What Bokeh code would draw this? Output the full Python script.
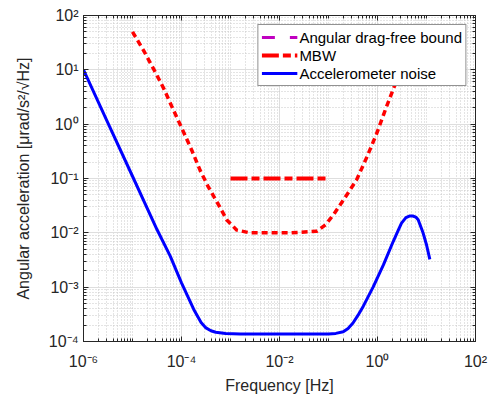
from bokeh.plotting import figure
from bokeh.models import (LogAxis, FixedTicker, CustomJSTickFormatter, Legend,
                          LegendItem, Range1d)
from bokeh.embed import file_html
from bokeh.resources import INLINE

nan = float("nan")

# ---------------- data ----------------
acc_f = [1e-6, 3.16e-6, 1e-5, 3.16e-5, 5.89e-5, 1e-4, 1.78e-4, 2.51e-4, 3.16e-4,
         3.98e-4, 5.01e-4, 7.94e-4, 1.58e-3, 1e-2, 0.1, 0.141, 0.2, 0.251, 0.316,
         0.398, 0.513, 0.813, 1.32, 2.09, 2.63, 3.09, 3.80, 4.47, 5.25, 6.03,
         6.76, 8.51, 10.0, 11.7]
acc_v = [10.0, 1.05, 0.110, 0.0115, 3.72e-3, 1.20e-3, 3.89e-4, 2.24e-4, 1.78e-4,
         1.58e-4, 1.48e-4, 1.41e-4, 1.38e-4, 1.38e-4, 1.38e-4, 1.41e-4, 1.51e-4,
         1.74e-4, 2.19e-4, 3.02e-4, 4.47e-4, 1.0e-3, 2.57e-3, 6.92e-3, 0.0110,
         0.0151, 0.0191, 0.0204, 0.0204, 0.0195, 0.0174, 0.0100, 6.03e-3, 3.24e-3]

curve_f = [1e-5, 1.70e-5, 2.95e-5, 4.37e-5, 6.46e-5, 1.02e-4, 1.62e-4, 2.40e-4,
           3.55e-4, 5.75e-4, 8.51e-4, 1.35e-3, 2.51e-3, 0.0166, 0.0575, 0.0871,
           0.126, 0.200, 0.372, 0.603, 0.955, 1.51, 2.26, 3.98]
curve_v = [50.0, 22.4, 8.91, 4.47, 2.04, 0.832, 0.331, 0.141, 0.0692, 0.0324,
           0.0170, 0.0112, 0.0100, 0.0100, 0.0107, 0.0141, 0.0214, 0.0398,
           0.0933, 0.245, 0.661, 2.04, 5.25, 17.8]

mbw_f = [1e-3, 1e-1]
mbw_v = [0.1, 0.1]

# angular drag-free bound: listed in the legend, not visible in the plot area
drag_f = [nan]
drag_v = [nan]

x_ticks = [1e-6, 1e-4, 1e-2, 1e0, 1e2]
x_labels = ["10⁻⁶", "10⁻⁴", "10⁻²", "10⁰", "10²"]
y_ticks = [1e-4, 1e-3, 1e-2, 1e-1, 1e0, 1e1, 1e2]
y_labels = ["10⁻⁴", "10⁻³", "10⁻²", "10⁻¹", "10⁰", "10¹", "10²"]

x_minor = [k * 10.0 ** d for d in range(-6, 2) for k in range(1, 10)
           if not (k == 1 and d % 2 == 0)]
y_minor = [k * 10.0 ** d for d in range(-4, 2) for k in range(2, 10)]

FONT = "Liberation Sans"
TXT = "#262626"

fmt_code = """
const lt = Math.log10(tick);
for (let i = 0; i < tvals.length; i++) {
  if (Math.abs(Math.log10(tvals[i]) - lt) < 1e-6) return tlabels[i];
}
return '';
"""

p = figure(width=490, height=396, x_axis_type="log", y_axis_type="log",
           x_range=Range1d(1e-6, 1e2), y_range=Range1d(1e-4, 1e2),
           output_backend="svg", toolbar_location=None,
           min_border_left=83, min_border_right=15, min_border_top=15,
           min_border_bottom=54)
p.background_fill_color = "white"
p.border_fill_color = "white"
p.outline_line_color = TXT
p.outline_line_width = 1

xt = FixedTicker(ticks=x_ticks, minor_ticks=x_minor)
yt = FixedTicker(ticks=y_ticks, minor_ticks=y_minor)

for ax, tv, tl, tk in ((p.xaxis[0], x_ticks, x_labels, xt),
                       (p.yaxis[0], y_ticks, y_labels, yt)):
    ax.ticker = tk
    ax.formatter = CustomJSTickFormatter(args=dict(tvals=tv, tlabels=tl), code=fmt_code)
    ax.major_label_text_font = FONT
    ax.major_label_text_font_size = "16px"
    ax.major_label_text_color = TXT
    ax.axis_label_text_font = FONT
    ax.axis_label_text_font_size = "16px"
    ax.axis_label_text_font_style = "normal"
    ax.axis_label_text_color = TXT
    ax.axis_line_color = TXT
    ax.major_tick_line_color = TXT
    ax.minor_tick_line_color = TXT
    ax.major_tick_in = 5
    ax.major_tick_out = 0
    ax.minor_tick_in = 3
    ax.minor_tick_out = 0

p.xaxis[0].axis_label = "Frequency [Hz]"
p.yaxis[0].axis_label = "Angular acceleration [μrad/s²/√Hz]"
p.xaxis[0].major_label_standoff = 11
p.yaxis[0].major_label_standoff = 5
p.xaxis[0].axis_label_standoff = 4
p.yaxis[0].axis_label_standoff = 14

empty_fmt = CustomJSTickFormatter(code="return '';")
top = LogAxis(ticker=xt, formatter=empty_fmt, major_tick_in=5, major_tick_out=0,
              minor_tick_in=3, minor_tick_out=0, axis_line_color=TXT,
              major_tick_line_color=TXT, minor_tick_line_color=TXT,
              major_label_standoff=0)
right = LogAxis(ticker=yt, formatter=empty_fmt, major_tick_in=5, major_tick_out=0,
                minor_tick_in=3, minor_tick_out=0, axis_line_color=TXT,
                major_tick_line_color=TXT, minor_tick_line_color=TXT,
                major_label_standoff=0)
p.add_layout(top, "above")
p.add_layout(right, "right")

for g in (p.xgrid[0], p.ygrid[0]):
    g.grid_line_color = "#dedede"
    g.grid_line_width = 1
    g.minor_grid_line_color = "#c8c8c8"
    g.minor_grid_line_dash = "1 2"
    g.minor_grid_line_width = 1
p.xgrid[0].ticker = xt
p.ygrid[0].ticker = yt

r_drag = p.line(x=drag_f, y=drag_v, line_color="#c000c0", line_width=3,
                line_dash="13 15")
r_curve = p.line(x=curve_f, y=curve_v, line_color="#ff0000", line_width=3.5,
                 line_dash="6 4")
r_mbw = p.line(x=mbw_f, y=mbw_v, line_color="#ff0000", line_width=4,
               line_dash="17 4 8 4")
r_acc = p.line(x=acc_f, y=acc_v, line_color="#0000ff", line_width=3)

legend = Legend(items=[
    LegendItem(label="Angular drag-free bound", renderers=[r_drag]),
    LegendItem(label="MBW", renderers=[r_mbw]),
    LegendItem(label="Accelerometer noise", renderers=[r_acc]),
], location="top_right")
legend.margin = 9
legend.padding = 3
legend.spacing = 0
legend.glyph_width = 36
legend.glyph_height = 18
legend.label_height = 18
legend.label_standoff = 2
legend.label_text_font = FONT
legend.label_text_font_size = "15px"
legend.label_text_color = "black"
legend.border_line_color = TXT
legend.border_line_width = 1
legend.background_fill_color = "white"
legend.background_fill_alpha = 1.0
p.add_layout(legend)

open("out.html", "w").write(file_html(p, INLINE))
